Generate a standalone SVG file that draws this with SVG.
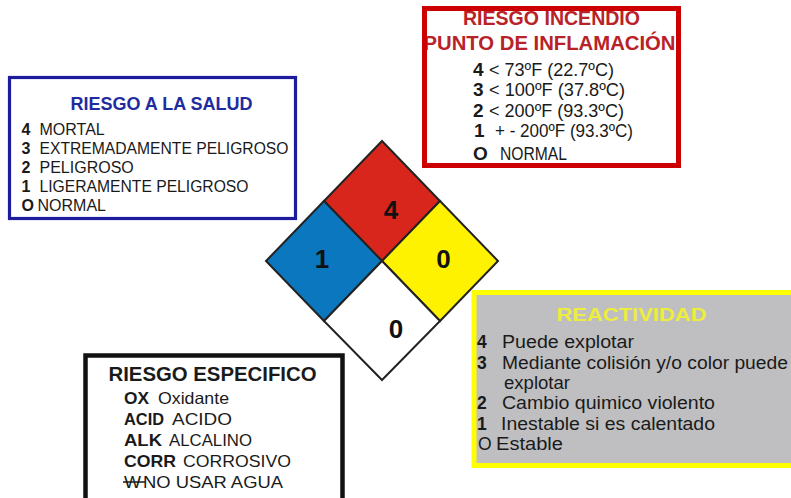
<svg xmlns="http://www.w3.org/2000/svg" width="791" height="498" viewBox="0 0 791 498">
<style>
text{font-family:"Liberation Sans",Arial,sans-serif;fill:#1a1a1a}
.b{font-weight:bold}
.hb{font-size:16px}
.fb{font-size:19px}
.rb{font-size:17.5px}
.sb{font-size:16.5px}
.dn{font-size:26px;font-weight:bold;text-anchor:middle;fill:#111}
.q{stroke:#222;stroke-width:2;stroke-linejoin:miter}
</style>
<rect width="791" height="498" fill="#ffffff"/>

<g id="salud">
<rect x="9.5" y="77.5" width="286" height="141" fill="#ffffff" stroke="#1c1c9c" stroke-width="3.2"/>
<text x="161.5" y="110" class="b" font-size="18" text-anchor="middle" style="fill:#1f2c9f">RIESGO A LA SALUD</text>
<text class="hb b" x="21.5" y="135">4</text><text class="hb" x="39.5" y="135">MORTAL</text>
<text class="hb b" x="21.5" y="154">3</text><text class="hb" x="39.5" y="154" textLength="249" lengthAdjust="spacingAndGlyphs">EXTREMADAMENTE PELIGROSO</text>
<text class="hb b" x="21.5" y="173">2</text><text class="hb" x="39.5" y="173">PELIGROSO</text>
<text class="hb b" x="21.5" y="192">1</text><text class="hb" x="39.5" y="192" textLength="209" lengthAdjust="spacingAndGlyphs">LIGERAMENTE PELIGROSO</text>
<text class="hb b" x="21.5" y="211">O</text><text class="hb" x="37.5" y="211">NORMAL</text>
</g>

<g id="incendio">
<rect x="424.5" y="8.5" width="254" height="157" fill="#ffffff"/>
<text x="551.5" y="25" class="b" font-size="19.5" text-anchor="middle" textLength="177" lengthAdjust="spacingAndGlyphs" style="fill:#b82228">RIESGO INCENDIO</text>
<text x="549.5" y="50" class="b" font-size="20" text-anchor="middle" textLength="252" lengthAdjust="spacingAndGlyphs" style="fill:#b82228">PUNTO DE INFLAMACIÓN</text>
<text class="fb b" x="473" y="75.5">4</text><text class="fb" x="489" y="75.5" textLength="125" lengthAdjust="spacingAndGlyphs">&lt; 73ºF (22.7ºC)</text>
<text class="fb b" x="473" y="96">3</text><text class="fb" x="489" y="96" textLength="136" lengthAdjust="spacingAndGlyphs">&lt; 100ºF (37.8ºC)</text>
<text class="fb b" x="473" y="116.5">2</text><text class="fb" x="489" y="116.5" textLength="135" lengthAdjust="spacingAndGlyphs">&lt; 200ºF (93.3ºC)</text>
<text class="fb b" x="474" y="137">1</text><text class="fb" x="495" y="137" textLength="138" lengthAdjust="spacingAndGlyphs">+ - 200ºF (93.3ºC)</text>
<text class="fb b" x="473" y="160">O</text><text class="fb" x="500" y="160" textLength="67" lengthAdjust="spacingAndGlyphs">NORMAL</text>
<rect x="424.5" y="8.5" width="254" height="157" fill="none" stroke="#cc0000" stroke-width="5"/>
</g>

<g id="rombo">
<polygon class="q" points="382,141 440,201 382,261 324,201" fill="#d9261c"/>
<polygon class="q" points="324,201 382,261 324,321 266,261" fill="#0a77bf"/>
<polygon class="q" points="440,201 498,261 440,321 382,261" fill="#fff200"/>
<polygon class="q" points="382,261 440,321 382,380 324,321" fill="#ffffff"/>
<text class="dn" x="391" y="218.5">4</text>
<text class="dn" x="322" y="268">1</text>
<text class="dn" x="443.5" y="268">0</text>
<text class="dn" x="396" y="338">0</text>
</g>

<g id="reactividad">
<rect x="474" y="292.5" width="330" height="173" fill="#bfbfc1" stroke="#ffff00" stroke-width="5"/>
<text x="631.5" y="321" class="b" font-size="19" text-anchor="middle" textLength="150" lengthAdjust="spacingAndGlyphs" style="fill:#eded3c">REACTIVIDAD</text>
<text class="rb b" x="477" y="348">4</text><text class="rb" x="502" y="348" textLength="132" lengthAdjust="spacingAndGlyphs">Puede explotar</text>
<text class="rb b" x="477" y="368.5">3</text><text class="rb" x="502" y="368.5" textLength="286" lengthAdjust="spacingAndGlyphs">Mediante colisión y/o color puede</text>
<text class="rb" x="504" y="388.5" textLength="66" lengthAdjust="spacingAndGlyphs">explotar</text>
<text class="rb b" x="477" y="409">2</text><text class="rb" x="502" y="409" textLength="213" lengthAdjust="spacingAndGlyphs">Cambio quimico violento</text>
<text class="rb b" x="477" y="429.5">1</text><text class="rb" x="501" y="429.5" textLength="214" lengthAdjust="spacingAndGlyphs">Inestable si es calentado</text>
<text class="rb" x="478" y="449.5">O</text><text class="rb" x="496" y="449.5" textLength="67" lengthAdjust="spacingAndGlyphs">Estable</text>
</g>

<g id="especifico">
<rect x="85.5" y="355.5" width="257" height="160" fill="#ffffff" stroke="#111111" stroke-width="4.5"/>
<text x="212.5" y="380.7" class="b" font-size="20" text-anchor="middle" textLength="208" lengthAdjust="spacingAndGlyphs">RIESGO ESPECIFICO</text>
<text class="sb b" x="124" y="404" textLength="25" lengthAdjust="spacingAndGlyphs">OX</text><text class="sb" x="158" y="404" textLength="71" lengthAdjust="spacingAndGlyphs">Oxidante</text>
<text class="sb b" x="124" y="425" textLength="40" lengthAdjust="spacingAndGlyphs">ACID</text><text class="sb" x="172" y="425" textLength="60" lengthAdjust="spacingAndGlyphs">ACIDO</text>
<text class="sb b" x="124" y="446" textLength="38" lengthAdjust="spacingAndGlyphs">ALK</text><text class="sb" x="169" y="446" textLength="83" lengthAdjust="spacingAndGlyphs">ALCALINO</text>
<text class="sb b" x="124" y="467" textLength="52" lengthAdjust="spacingAndGlyphs">CORR</text><text class="sb" x="183" y="467" textLength="108" lengthAdjust="spacingAndGlyphs">CORROSIVO</text>
<text class="sb" x="124" y="488" textLength="17" lengthAdjust="spacingAndGlyphs">W</text><text class="sb" x="143" y="488" textLength="140" lengthAdjust="spacingAndGlyphs">NO USAR AGUA</text>
<line x1="123" y1="482" x2="145" y2="482" stroke="#1a1a1a" stroke-width="1.5"/>
</g>
</svg>
